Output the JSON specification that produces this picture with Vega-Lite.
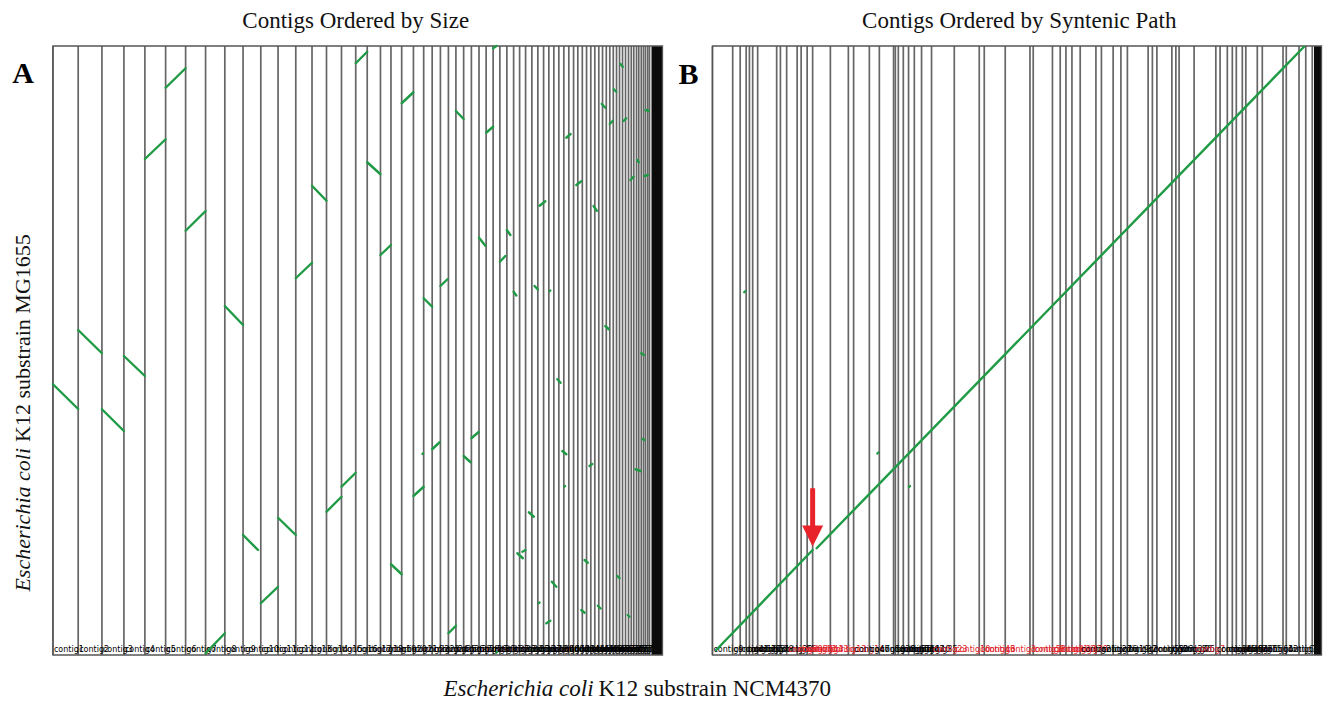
{
  "$schema": "https://vega.github.io/schema/vega-lite/v6.json",
  "width": 1323,
  "height": 705,
  "autosize": {"type": "fit", "contains": "padding"},
  "padding": 0,
  "background": "white",
  "config": {"view": {"stroke": null}, "axis": {"disable": true}},
  "datasets": {
    "contigsA": [
      {"s": 0, "n": "contig1"}, {"s": 202, "n": "contig2"}, {"s": 392, "n": "contig3"}, {"s": 568, "n": "contig4"},
      {"s": 736, "n": "contig5"}, {"s": 902, "n": "contig6"}, {"s": 1062, "n": "contig7"}, {"s": 1222, "n": "contig8"},
      {"s": 1376, "n": "contig9"}, {"s": 1522, "n": "contig10"}, {"s": 1664, "n": "contig11"}, {"s": 1802, "n": "contig12"},
      {"s": 1944, "n": "contig13"}, {"s": 2074, "n": "contig14"}, {"s": 2190, "n": "contig15"}, {"s": 2310, "n": "contig16"},
      {"s": 2424, "n": "contig17"}, {"s": 2516, "n": "contig18"}, {"s": 2622, "n": "contig19"}, {"s": 2706, "n": "contig20"},
      {"s": 2792, "n": "contig21"}, {"s": 2886, "n": "contig22"}, {"s": 2968, "n": "contig23"}, {"s": 3036, "n": "contig24"},
      {"s": 3102, "n": "contig25"}, {"s": 3166, "n": "contig26"}, {"s": 3226, "n": "contig27"}, {"s": 3288, "n": "contig28"},
      {"s": 3350, "n": "contig29"}, {"s": 3411, "n": "contig30"}, {"s": 3468, "n": "contig31"}, {"s": 3524, "n": "contig32"},
      {"s": 3578, "n": "contig33"}, {"s": 3634, "n": "contig34"}, {"s": 3688, "n": "contig35"}, {"s": 3736, "n": "contig36"},
      {"s": 3784, "n": "contig37"}, {"s": 3834, "n": "contig38"}, {"s": 3882, "n": "contig39"}, {"s": 3928, "n": "contig40"},
      {"s": 3970, "n": "contig41"}, {"s": 4010, "n": "contig42"}, {"s": 4050, "n": "contig43"}, {"s": 4090, "n": "contig44"},
      {"s": 4130, "n": "contig45"}, {"s": 4168, "n": "contig46"}, {"s": 4202, "n": "contig47"}, {"s": 4238, "n": "contig48"},
      {"s": 4272, "n": "contig49"}, {"s": 4306, "n": "contig50"}, {"s": 4338, "n": "contig51"}, {"s": 4370, "n": "contig52"},
      {"s": 4400, "n": "contig53"}, {"s": 4430, "n": "contig54"}, {"s": 4458, "n": "contig55"}, {"s": 4486, "n": "contig56"},
      {"s": 4512, "n": "contig57"}, {"s": 4536, "n": "contig58"}, {"s": 4560, "n": "contig59"}, {"s": 4584, "n": "contig60"},
      {"s": 4608, "n": "contig61"}, {"s": 4630, "n": "contig62"}, {"s": 4650, "n": "contig63"}, {"s": 4672, "n": "contig64"},
      {"s": 4690, "n": "contig65"}, {"s": 4710, "n": "contig66"}, {"s": 4728, "n": "contig67"}, {"s": 4744, "n": "contig68"},
      {"s": 4762, "n": "contig69"}, {"s": 4776, "n": "contig70"}
    ],
    "contigsB": [
      {"s": 0, "n": "contig9", "strand": "+"}, {"s": 162, "n": "contig41", "strand": "+"}, {"s": 222, "n": "contig52", "strand": "+"},
      {"s": 270, "n": "contig60", "strand": "+"}, {"s": 296, "n": "contig63", "strand": "+"}, {"s": 322, "n": "contig57", "strand": "+"},
      {"s": 362, "n": "contig48", "strand": "+"}, {"s": 514, "n": "contig20", "strand": "+"}, {"s": 544, "n": "contig55", "strand": "+"},
      {"s": 594, "n": "contig39", "strand": "-"}, {"s": 678, "n": "contig24", "strand": "-"}, {"s": 710, "n": "contig51", "strand": "-"},
      {"s": 758, "n": "contig44", "strand": "-"}, {"s": 802, "n": "contig33", "strand": "-"}, {"s": 944, "n": "contig13", "strand": "-"},
      {"s": 1088, "n": "contig14", "strand": "-"}, {"s": 1130, "n": "contig47", "strand": "+"}, {"s": 1256, "n": "contig18", "strand": "+"},
      {"s": 1336, "n": "contig28", "strand": "+"}, {"s": 1450, "n": "contig62", "strand": "+"}, {"s": 1464, "n": "contig65", "strand": "+"},
      {"s": 1488, "n": "contig53", "strand": "+"}, {"s": 1528, "n": "contig46", "strand": "+"}, {"s": 1570, "n": "contig42", "strand": "+"},
      {"s": 1616, "n": "contig40", "strand": "+"}, {"s": 1674, "n": "contig35", "strand": "+"}, {"s": 1754, "n": "contig23", "strand": "-"},
      {"s": 1936, "n": "contig10", "strand": "-"}, {"s": 2136, "n": "contig43", "strand": "-"}, {"s": 2176, "n": "contig6", "strand": "-"},
      {"s": 2344, "n": "contig3", "strand": "-"}, {"s": 2542, "n": "contig58", "strand": "-"}, {"s": 2568, "n": "contig8", "strand": "-"},
      {"s": 2722, "n": "contig31", "strand": "-"}, {"s": 2784, "n": "contig30", "strand": "-"}, {"s": 2830, "n": "contig37", "strand": "-"},
      {"s": 2878, "n": "contig29", "strand": "-"}, {"s": 2944, "n": "contig21", "strand": "+"}, {"s": 3070, "n": "contig27", "strand": "+"},
      {"s": 3114, "n": "contig36", "strand": "+"}, {"s": 3208, "n": "contig19", "strand": "+"}, {"s": 3270, "n": "contig32", "strand": "+"},
      {"s": 3322, "n": "contig2", "strand": "+"}, {"s": 3488, "n": "contig59", "strand": "+"}, {"s": 3522, "n": "contig50", "strand": "+"},
      {"s": 3558, "n": "contig26", "strand": "+"}, {"s": 3678, "n": "contig34", "strand": "+"}, {"s": 3710, "n": "contig56", "strand": "+"},
      {"s": 3736, "n": "contig25", "strand": "+"}, {"s": 3856, "n": "contig7", "strand": "-"}, {"s": 4030, "n": "contig38", "strand": "+"},
      {"s": 4064, "n": "contig45", "strand": "+"}, {"s": 4122, "n": "contig49", "strand": "+"}, {"s": 4162, "n": "contig54", "strand": "+"},
      {"s": 4194, "n": "contig22", "strand": "+"}, {"s": 4242, "n": "contig61", "strand": "+"}, {"s": 4270, "n": "contig15", "strand": "+"},
      {"s": 4362, "n": "contig64", "strand": "+"}, {"s": 4402, "n": "contig12", "strand": "+"}, {"s": 4568, "n": "contig66", "strand": "+"},
      {"s": 4594, "n": "contig17", "strand": "+"}, {"s": 4696, "n": "contig67", "strand": "+"}, {"s": 4750, "n": "contig68", "strand": "+"},
      {"s": 4802, "n": "contig69", "strand": "+"}
    ],
    "segA": [
      {"x1": 902, "y1": 4538, "x2": 1062, "y2": 4694}, {"x1": 736, "y1": 3968, "x2": 902, "y2": 4126},
      {"x1": 1062, "y1": 3394, "x2": 1222, "y2": 3552}, {"x1": 2074, "y1": 3754, "x2": 2190, "y2": 3634},
      {"x1": 1944, "y1": 3014, "x2": 2074, "y2": 3138}, {"x1": 1376, "y1": 2792, "x2": 1522, "y2": 2640},
      {"x1": 202, "y1": 2600, "x2": 392, "y2": 2414}, {"x1": 568, "y1": 2392, "x2": 736, "y2": 2232},
      {"x1": 0, "y1": 2166, "x2": 202, "y2": 1968}, {"x1": 392, "y1": 1966, "x2": 568, "y2": 1792},
      {"x1": 1522, "y1": 960, "x2": 1642, "y2": 840}, {"x1": 1802, "y1": 1098, "x2": 1944, "y2": 960},
      {"x1": 1664, "y1": 414, "x2": 1802, "y2": 546}, {"x1": 2190, "y1": 1146, "x2": 2310, "y2": 1266},
      {"x1": 2310, "y1": 1346, "x2": 2424, "y2": 1458}, {"x1": 1222, "y1": 14, "x2": 1376, "y2": 174},
      {"x1": 2424, "y1": 4734, "x2": 2516, "y2": 4826}, {"x1": 3524, "y1": 4854, "x2": 3550, "y2": 4872},
      {"x1": 2792, "y1": 4414, "x2": 2886, "y2": 4502}, {"x1": 3226, "y1": 4352, "x2": 3288, "y2": 4288},
      {"x1": 3468, "y1": 4178, "x2": 3524, "y2": 4226}, {"x1": 2516, "y1": 3942, "x2": 2622, "y2": 3846},
      {"x1": 4110, "y1": 4138, "x2": 4144, "y2": 4168}, {"x1": 4190, "y1": 3760, "x2": 4230, "y2": 3790},
      {"x1": 3896, "y1": 3594, "x2": 3942, "y2": 3630}, {"x1": 4328, "y1": 3592, "x2": 4354, "y2": 3554},
      {"x1": 2622, "y1": 3200, "x2": 2706, "y2": 3280}, {"x1": 3411, "y1": 3338, "x2": 3462, "y2": 3274},
      {"x1": 3634, "y1": 3400, "x2": 3662, "y2": 3360}, {"x1": 3578, "y1": 3146, "x2": 3622, "y2": 3192},
      {"x1": 3102, "y1": 2952, "x2": 3158, "y2": 3006}, {"x1": 2968, "y1": 2854, "x2": 3036, "y2": 2786},
      {"x1": 3688, "y1": 2906, "x2": 3710, "y2": 2876}, {"x1": 3856, "y1": 2952, "x2": 3882, "y2": 2924},
      {"x1": 3976, "y1": 2910, "x2": 3982, "y2": 2916}, {"x1": 4422, "y1": 2632, "x2": 4450, "y2": 2606},
      {"x1": 4394, "y1": 4408, "x2": 4422, "y2": 4378}, {"x1": 4490, "y1": 4526, "x2": 4510, "y2": 4506},
      {"x1": 4544, "y1": 4728, "x2": 4562, "y2": 4706}, {"x1": 4458, "y1": 4248, "x2": 4482, "y2": 4274},
      {"x1": 4568, "y1": 4272, "x2": 4590, "y2": 4294}, {"x1": 4678, "y1": 3960, "x2": 4690, "y2": 3942},
      {"x1": 4624, "y1": 3800, "x2": 4648, "y2": 3826}, {"x1": 4736, "y1": 3832, "x2": 4762, "y2": 3840},
      {"x1": 4744, "y1": 4360, "x2": 4770, "y2": 4352}, {"x1": 2886, "y1": 1272, "x2": 2968, "y2": 1346},
      {"x1": 3036, "y1": 1646, "x2": 3096, "y2": 1702}, {"x1": 2958, "y1": 1608, "x2": 2964, "y2": 1614},
      {"x1": 3288, "y1": 1592, "x2": 3344, "y2": 1542}, {"x1": 3350, "y1": 1734, "x2": 3408, "y2": 1784},
      {"x1": 2706, "y1": 726, "x2": 2792, "y2": 646}, {"x1": 3166, "y1": 174, "x2": 3226, "y2": 234},
      {"x1": 4038, "y1": 2206, "x2": 4064, "y2": 2178}, {"x1": 4078, "y1": 1632, "x2": 4110, "y2": 1606},
      {"x1": 4094, "y1": 1346, "x2": 4100, "y2": 1352}, {"x1": 4296, "y1": 1512, "x2": 4318, "y2": 1528},
      {"x1": 3810, "y1": 1142, "x2": 3850, "y2": 1106}, {"x1": 3718, "y1": 814, "x2": 3762, "y2": 774},
      {"x1": 3758, "y1": 826, "x2": 3784, "y2": 840}, {"x1": 4256, "y1": 760, "x2": 4282, "y2": 738},
      {"x1": 3994, "y1": 586, "x2": 4030, "y2": 546}, {"x1": 4518, "y1": 632, "x2": 4536, "y2": 614},
      {"x1": 3890, "y1": 414, "x2": 3896, "y2": 420}, {"x1": 3950, "y1": 254, "x2": 3982, "y2": 274},
      {"x1": 4230, "y1": 360, "x2": 4256, "y2": 338}, {"x1": 4362, "y1": 394, "x2": 4384, "y2": 372},
      {"x1": 4602, "y1": 320, "x2": 4616, "y2": 306}, {"x1": 4664, "y1": 1486, "x2": 4704, "y2": 1472},
      {"x1": 4722, "y1": 1728, "x2": 4736, "y2": 1720}, {"x1": 4710, "y1": 2414, "x2": 4730, "y2": 2400},
      {"x1": 3550, "y1": 18, "x2": 3556, "y2": 24}
    ],
    "segB": [
      {"x1": 30, "y1": 40, "x2": 802, "y2": 840},
      {"x1": 834, "y1": 854, "x2": 4736, "y2": 4866},
      {"x1": 254, "y1": 2902, "x2": 262, "y2": 2910},
      {"x1": 1320, "y1": 1612, "x2": 1328, "y2": 1620},
      {"x1": 1574, "y1": 1344, "x2": 1582, "y2": 1352}
    ]
  },
  "layer": [
    {
      "layer": [
        {
          "data": {"name": "contigsA"},
          "mark": {"type": "rule", "color": "#666666", "strokeWidth": 1.7},
          "encoding": {
            "x": {"field": "s", "type": "quantitative", "scale": {"domain": [-424, 10160], "nice": false, "zero": false}},
            "y": {"datum": 0, "type": "quantitative", "scale": {"domain": [-400, 5240], "nice": false, "zero": false}},
            "y2": {"datum": 4872}
          }
        },
        {
          "data": {"name": "contigsA"},
          "transform": [{"filter": "datum.s < 4600"}],
          "mark": {"type": "text", "fontSize": 8, "font": "DejaVu Sans", "align": "left", "baseline": "bottom", "dx": 1, "color": "#000000"},
          "encoding": {
            "x": {"field": "s", "type": "quantitative", "scale": {"domain": [-424, 10160], "nice": false, "zero": false}},
            "y": {"datum": 6, "type": "quantitative", "scale": {"domain": [-400, 5240], "nice": false, "zero": false}},
            "text": {"field": "n"}
          }
        },
        {
          "data": {"values": [{}]},
          "mark": {"type": "rect", "color": "#0a0a0a"},
          "encoding": {
            "x": {"datum": 4792, "type": "quantitative", "scale": {"domain": [-424, 10160], "nice": false, "zero": false}},
            "x2": {"datum": 4880},
            "y": {"datum": 0, "type": "quantitative", "scale": {"domain": [-400, 5240], "nice": false, "zero": false}},
            "y2": {"datum": 4872}
          }
        },
        {
          "data": {"values": [{}]},
          "mark": {"type": "rect", "fill": null, "stroke": "#555555", "strokeWidth": 1.3},
          "encoding": {
            "x": {"datum": 0, "type": "quantitative", "scale": {"domain": [-424, 10160], "nice": false, "zero": false}},
            "x2": {"datum": 4880},
            "y": {"datum": 0, "type": "quantitative", "scale": {"domain": [-400, 5240], "nice": false, "zero": false}},
            "y2": {"datum": 4872}
          }
        },
        {
          "data": {"name": "segA"},
          "mark": {"type": "rule", "color": "#1f9a45", "strokeWidth": 2.4, "strokeCap": "round"},
          "encoding": {
            "x": {"field": "x1", "type": "quantitative", "scale": {"domain": [-424, 10160], "nice": false, "zero": false}},
            "x2": {"field": "x2"},
            "y": {"field": "y1", "type": "quantitative", "scale": {"domain": [-400, 5240], "nice": false, "zero": false}},
            "y2": {"field": "y2"}
          }
        },
        {
          "data": {"values": [{}]},
          "mark": {"type": "text", "text": "Contigs Ordered by Size", "font": "Liberation Serif", "fontSize": 23, "align": "center", "baseline": "alphabetic", "color": "#111111"},
          "encoding": {
            "x": {"datum": 2424, "type": "quantitative", "scale": {"domain": [-424, 10160], "nice": false, "zero": false}},
            "y": {"datum": 5014, "type": "quantitative", "scale": {"domain": [-400, 5240], "nice": false, "zero": false}}
          }
        },
        {
          "data": {"values": [{}]},
          "mark": {"type": "text", "text": "A", "font": "Liberation Serif", "fontSize": 30, "fontWeight": "bold", "align": "center", "baseline": "alphabetic", "color": "#000000"},
          "encoding": {
            "x": {"datum": -240, "type": "quantitative", "scale": {"domain": [-424, 10160], "nice": false, "zero": false}},
            "y": {"datum": 4574, "type": "quantitative", "scale": {"domain": [-400, 5240], "nice": false, "zero": false}}
          }
        },
        {
          "data": {"values": [{}]},
          "mark": {"type": "text", "text": "Escherichia coli", "font": "Liberation Serif", "fontSize": 22, "fontStyle": "italic", "angle": 270, "align": "right", "baseline": "alphabetic", "color": "#111111"},
          "encoding": {
            "x": {"datum": -184, "type": "quantitative", "scale": {"domain": [-424, 10160], "nice": false, "zero": false}},
            "y": {"datum": 1656, "type": "quantitative", "scale": {"domain": [-400, 5240], "nice": false, "zero": false}}
          }
        },
        {
          "data": {"values": [{}]},
          "mark": {"type": "text", "text": "K12 substrain MG1655", "font": "Liberation Serif", "fontSize": 22, "angle": 270, "align": "left", "baseline": "alphabetic", "color": "#111111"},
          "encoding": {
            "x": {"datum": -184, "type": "quantitative", "scale": {"domain": [-424, 10160], "nice": false, "zero": false}},
            "y": {"datum": 1704, "type": "quantitative", "scale": {"domain": [-400, 5240], "nice": false, "zero": false}}
          }
        },
        {
          "data": {"values": [{}]},
          "mark": {"type": "text", "text": "Escherichia coli", "font": "Liberation Serif", "fontSize": 23, "fontStyle": "italic", "align": "right", "baseline": "alphabetic", "color": "#111111"},
          "encoding": {
            "x": {"datum": 4328, "type": "quantitative", "scale": {"domain": [-424, 10160], "nice": false, "zero": false}},
            "y": {"datum": -328, "type": "quantitative", "scale": {"domain": [-400, 5240], "nice": false, "zero": false}}
          }
        },
        {
          "data": {"values": [{}]},
          "mark": {"type": "text", "text": "K12 substrain NCM4370", "font": "Liberation Serif", "fontSize": 23, "align": "left", "baseline": "alphabetic", "color": "#111111"},
          "encoding": {
            "x": {"datum": 4368, "type": "quantitative", "scale": {"domain": [-424, 10160], "nice": false, "zero": false}},
            "y": {"datum": -328, "type": "quantitative", "scale": {"domain": [-400, 5240], "nice": false, "zero": false}}
          }
        }
      ]
    },
    {
      "layer": [
        {
          "data": {"name": "contigsB"},
          "mark": {"type": "rule", "color": "#666666", "strokeWidth": 1.7},
          "encoding": {
            "x": {"field": "s", "type": "quantitative", "scale": {"domain": [-5704, 4880], "nice": false, "zero": false}},
            "y": {"datum": 0, "type": "quantitative", "scale": {"domain": [-400, 5240], "nice": false, "zero": false}},
            "y2": {"datum": 4872}
          }
        },
        {
          "data": {"name": "contigsB"},
          "transform": [{"filter": "datum.s < 4600"}],
          "mark": {"type": "text", "fontSize": 8, "font": "DejaVu Sans", "align": "left", "baseline": "bottom", "dx": 1},
          "encoding": {
            "x": {"field": "s", "type": "quantitative", "scale": {"domain": [-5704, 4880], "nice": false, "zero": false}},
            "y": {"datum": 6, "type": "quantitative", "scale": {"domain": [-400, 5240], "nice": false, "zero": false}},
            "text": {"field": "n"},
            "color": {"field": "strand", "type": "nominal", "scale": {"domain": ["+", "-"], "range": ["#000000", "#e0242b"]}, "legend": null}
          }
        },
        {
          "data": {"values": [{}]},
          "mark": {"type": "rect", "color": "#0a0a0a"},
          "encoding": {
            "x": {"datum": 4816, "type": "quantitative", "scale": {"domain": [-5704, 4880], "nice": false, "zero": false}},
            "x2": {"datum": 4876},
            "y": {"datum": 0, "type": "quantitative", "scale": {"domain": [-400, 5240], "nice": false, "zero": false}},
            "y2": {"datum": 4872}
          }
        },
        {
          "data": {"values": [{}]},
          "mark": {"type": "rect", "fill": null, "stroke": "#555555", "strokeWidth": 1.3},
          "encoding": {
            "x": {"datum": 0, "type": "quantitative", "scale": {"domain": [-5704, 4880], "nice": false, "zero": false}},
            "x2": {"datum": 4876},
            "y": {"datum": 0, "type": "quantitative", "scale": {"domain": [-400, 5240], "nice": false, "zero": false}},
            "y2": {"datum": 4872}
          }
        },
        {
          "data": {"name": "segB"},
          "mark": {"type": "rule", "color": "#1f9a45", "strokeWidth": 2.4, "strokeCap": "round"},
          "encoding": {
            "x": {"field": "x1", "type": "quantitative", "scale": {"domain": [-5704, 4880], "nice": false, "zero": false}},
            "x2": {"field": "x2"},
            "y": {"field": "y1", "type": "quantitative", "scale": {"domain": [-400, 5240], "nice": false, "zero": false}},
            "y2": {"field": "y2"}
          }
        },
        {
          "data": {"values": [{}]},
          "mark": {"type": "rule", "color": "#e8232a", "strokeWidth": 5},
          "encoding": {
            "x": {"datum": 802, "type": "quantitative", "scale": {"domain": [-5704, 4880], "nice": false, "zero": false}},
            "y": {"datum": 1334, "type": "quantitative", "scale": {"domain": [-400, 5240], "nice": false, "zero": false}},
            "y2": {"datum": 980}
          }
        },
        {
          "data": {"values": [{}]},
          "mark": {"type": "point", "shape": "M-1,-1L1,-1L0,1Z", "filled": true, "color": "#e8232a", "opacity": 1, "size": 441},
          "encoding": {
            "x": {"datum": 802, "type": "quantitative", "scale": {"domain": [-5704, 4880], "nice": false, "zero": false}},
            "y": {"datum": 952, "type": "quantitative", "scale": {"domain": [-400, 5240], "nice": false, "zero": false}}
          }
        },
        {
          "data": {"values": [{}]},
          "mark": {"type": "text", "text": "Contigs Ordered by Syntenic Path", "font": "Liberation Serif", "fontSize": 23, "align": "center", "baseline": "alphabetic", "color": "#111111"},
          "encoding": {
            "x": {"datum": 2456, "type": "quantitative", "scale": {"domain": [-5704, 4880], "nice": false, "zero": false}},
            "y": {"datum": 5014, "type": "quantitative", "scale": {"domain": [-400, 5240], "nice": false, "zero": false}}
          }
        },
        {
          "data": {"values": [{}]},
          "mark": {"type": "text", "text": "B", "font": "Liberation Serif", "fontSize": 30, "fontWeight": "bold", "align": "center", "baseline": "alphabetic", "color": "#000000"},
          "encoding": {
            "x": {"datum": -192, "type": "quantitative", "scale": {"domain": [-5704, 4880], "nice": false, "zero": false}},
            "y": {"datum": 4568, "type": "quantitative", "scale": {"domain": [-400, 5240], "nice": false, "zero": false}}
          }
        }
      ]
    }
  ],
  "resolve": {"scale": {"x": "independent"}}
}
